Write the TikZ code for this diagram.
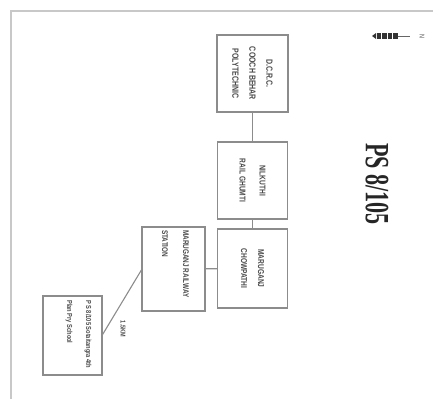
\documentclass[tikz,border=0pt]{standalone}
\usepackage{fontspec}
\newfontfamily\boxfont[FakeStretch=0.78]{Liberation Sans}
\newfontfamily\titlefont[FakeStretch=0.65]{Liberation Serif}
\definecolor{framegray}{HTML}{C8C8C8}
\definecolor{linegray}{HTML}{8C8C8C}
\definecolor{txtgray}{HTML}{4A4A4A}
\begin{document}
\begin{tikzpicture}[x=1pt,y=-1pt,
  box/.style={draw=linegray, line width=1.1pt, inner sep=0pt, outer sep=0pt},
  txt/.style={rotate=-90, inner sep=0pt, text=txtgray, font=\boxfont\bfseries\fontsize{8.5}{18}\selectfont},
  conn/.style={draw=linegray, line width=1.1pt}]
\useasboundingbox (0,0) rectangle (433,399);
% outer frame
\draw[framegray, line width=1.5pt] (11,399) -- (11,11) -- (433,11);
% boxes
\node[box, minimum width=71pt, minimum height=77pt] (b1) at (252.5,73.5) {};
\node[box, minimum width=70pt, minimum height=77pt] (b2) at (252.5,180.5) {};
\node[box, minimum width=70pt, minimum height=79pt] (b3) at (252.5,268.5) {};
\node[box, minimum width=63pt, minimum height=84pt] (b4) at (173.5,269) {};
\node[box, minimum width=59pt, minimum height=79pt] (b5) at (72.5,335.5) {};
% texts
\node[txt, align=center, font=\boxfont\bfseries\fontsize{9}{17}\selectfont] (t1) at (b1.center) {D.C.R.C.\\COOCH BEHAR\\POLYTECHNIC};
\node[txt, align=center, font=\boxfont\bfseries\fontsize{8.5}{20}\selectfont] (t2) at (b2.center) {NILKUTHI\\RAIL GHUMTI};
\node[txt, align=center, font=\boxfont\bfseries\fontsize{8.5}{17}\selectfont] (t3) at (b3.center) {MARUGANJ\\CHOWPATHI};
\node[txt, align=left, anchor=west, font=\boxfont\bfseries\fontsize{8.2}{21}\selectfont] (t4) at (175.5,230) {MARUGANJ RAILWAY\\STATION};
\node[txt, align=left, anchor=west, font=\boxfont\bfseries\fontsize{7.3}{19}\selectfont] (t5) at (78.5,300) {P S 8/105 Sotaitangra 4th\\Plan Pry School};
% connectors
\draw[conn] (b1) -- (b2);
\draw[conn] (b2) -- (b3);
\draw[conn] (b4) -- (b3);
\draw[conn] (b5.east) -- (b4.west);
\node[txt, font=\boxfont\bfseries\fontsize{7}{8}\selectfont] (km) at (123,329) {1.5KM};
% title
\node[rotate=-90, inner sep=0pt, text=black!85, font=\titlefont\bfseries\fontsize{34}{36}\selectfont] (title) at (377,184) {PS 8/105};
% north arrow
\fill[black!80] (372,36) -- (376,33) -- (376,39) -- cycle;
\foreach \x in {376.5,382,387.5,393} \fill[black!80] (\x,33) rectangle +(4.5,6);
\draw[black!60, line width=0.8pt] (397.5,36) -- (410,36);
\node[rotate=-90, inner sep=0pt, text=black!70, font=\boxfont\fontsize{7}{8}\selectfont] (north) at (422,36) {N};
\end{tikzpicture}
\end{document}
